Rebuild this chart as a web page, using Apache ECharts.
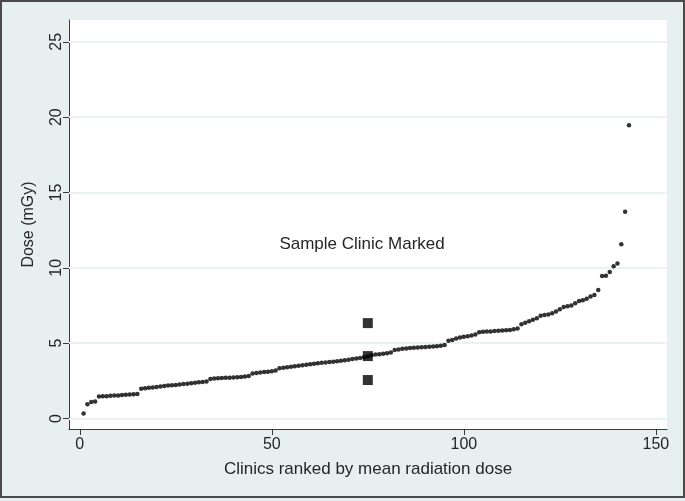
<!DOCTYPE html>
<html>
<head>
<meta charset="utf-8">
<script src="https://cdn.jsdelivr.net/npm/echarts@6/dist/echarts.min.js"></script>
<style>
html,body{margin:0;padding:0;background:#e8eff1;}
#c{width:685px;height:501px;}
</style>
</head>
<body>
<div id="c"></div>
<script>
// Mean radiation dose per clinic, ranked (clinic rank 1..143)
const doses = [
  0.33, 0.95, 1.10, 1.12,
  1.45, 1.47, 1.48, 1.50, 1.52, 1.53, 1.55, 1.57, 1.59, 1.60, 1.62,
  1.97, 2.00, 2.03, 2.06, 2.09, 2.12, 2.15, 2.18, 2.20, 2.22, 2.25, 2.28, 2.31, 2.34, 2.37,
  2.40, 2.42, 2.45,
  2.62, 2.65, 2.67, 2.68, 2.70, 2.71, 2.72, 2.74, 2.76, 2.78, 2.82,
  2.98, 3.02, 3.05, 3.08, 3.10, 3.13, 3.18,
  3.33, 3.37, 3.40, 3.43, 3.46, 3.50, 3.53, 3.56, 3.60,
  3.63, 3.66, 3.69, 3.72, 3.74, 3.77, 3.80, 3.83, 3.86, 3.90, 3.94, 3.98, 4.02, 4.06,
  4.12,
  4.20, 4.24, 4.27, 4.30, 4.33, 4.37,
  4.55, 4.58, 4.62, 4.65, 4.67, 4.69, 4.71, 4.73,
  4.75, 4.76, 4.78, 4.80, 4.83, 4.87,
  5.15, 5.20, 5.30, 5.37, 5.42, 5.46, 5.50, 5.58,
  5.72, 5.75, 5.77, 5.78, 5.80, 5.82, 5.84, 5.86, 5.88, 5.92, 5.97,
  6.25, 6.35, 6.45, 6.55, 6.65,
  6.82, 6.86, 6.90, 6.98,
  7.10, 7.25, 7.40, 7.45, 7.50, 7.65, 7.80, 7.85, 7.95, 8.10, 8.20,
  8.52, 9.45, 9.47, 9.73, 10.11, 10.29, 11.57, 13.72, 19.47
];
// Sample clinic: rank and marked values (upper, mean, lower)
const sampleRank = 75;
const sampleValues = [6.33, 4.14, 2.55];
const sampleLabel = 'Sample Clinic Marked';
const labelPos = [73.5, 11.55];
const xTicks = [0, 50, 100, 150];
const yTicks = [0, 5, 10, 15, 20, 25];
const xTitle = 'Clinics ranked by mean radiation dose';
const yTitle = 'Dose (mGy)';

const FONT = "'Liberation Sans', Arial, sans-serif";
const mainData = doses.map((v, i) => [i + 1, v]);
const sampleData = sampleValues.map(v => [sampleRank, v]);

const chart = echarts.init(document.getElementById('c'), null, {renderer: 'canvas'});
chart.setOption({
  backgroundColor: '#e8eff1',
  animation: false,
  grid: {left: 69, right: 18, top: 20, bottom: 72, show: true, backgroundColor: '#ffffff', borderWidth: 0},
  xAxis: {
    type: 'value', min: -2.8, max: 152.9,
    name: xTitle, nameLocation: 'middle', nameGap: 32,
    nameTextStyle: {fontFamily: FONT, fontSize: 17, color: '#262626'},
    axisLine: {show: true, onZero: false, lineStyle: {color: '#3a3a3a', width: 1}},
    axisTick: {show: true, length: 6, lineStyle: {color: '#3a3a3a'}, customValues: xTicks},
    axisLabel: {fontFamily: FONT, fontSize: 16, color: '#262626', margin: 8, customValues: xTicks},
    splitLine: {show: false}
  },
  yAxis: {
    type: 'value', min: -0.7, max: 26.45,
    name: yTitle, nameLocation: 'middle', nameGap: 32, nameRotate: 90,
    nameTextStyle: {fontFamily: FONT, fontSize: 16, color: '#262626'},
    axisLine: {show: true, onZero: false, lineStyle: {color: '#3a3a3a', width: 1}},
    axisTick: {show: true, length: 6, lineStyle: {color: '#3a3a3a'}, customValues: yTicks},
    axisLabel: {fontFamily: FONT, fontSize: 16, color: '#262626', rotate: 90, margin: 4, customValues: yTicks, align: 'center', verticalAlign: 'bottom'},
    splitLine: {show: false}
  },
  series: [
    {
      type: 'scatter', data: mainData, symbol: 'circle', symbolSize: 4.5,
      itemStyle: {color: '#000000'}, z: 3,
      markLine: {
        silent: true, symbol: 'none', label: {show: false},
        lineStyle: {color: '#eaf2f4', width: 2, type: 'solid'},
        data: yTicks.map(v => ({yAxis: v})),
        z: 1
      }
    },
    {
      type: 'scatter', data: sampleData, symbol: 'rect', symbolSize: 10,
      itemStyle: {color: '#000000'}, z: 4
    }
  ]
});
// Annotation placed via the axes' own scale
const p = chart.convertToPixel({gridIndex: 0}, labelPos);
chart.setOption({graphic: [
  {type: 'rect', shape: {x: 1, y: 1, width: 683, height: 496}, style: {fill: 'none', stroke: '#4a4a4a', lineWidth: 2}, silent: true, z: 100},
  {type: 'text', x: p[0], y: p[1], style: {text: sampleLabel, font: '17px ' + FONT, fill: '#262626', align: 'center', verticalAlign: 'middle'}, z: 50}
]});
</script>
</body>
</html>
